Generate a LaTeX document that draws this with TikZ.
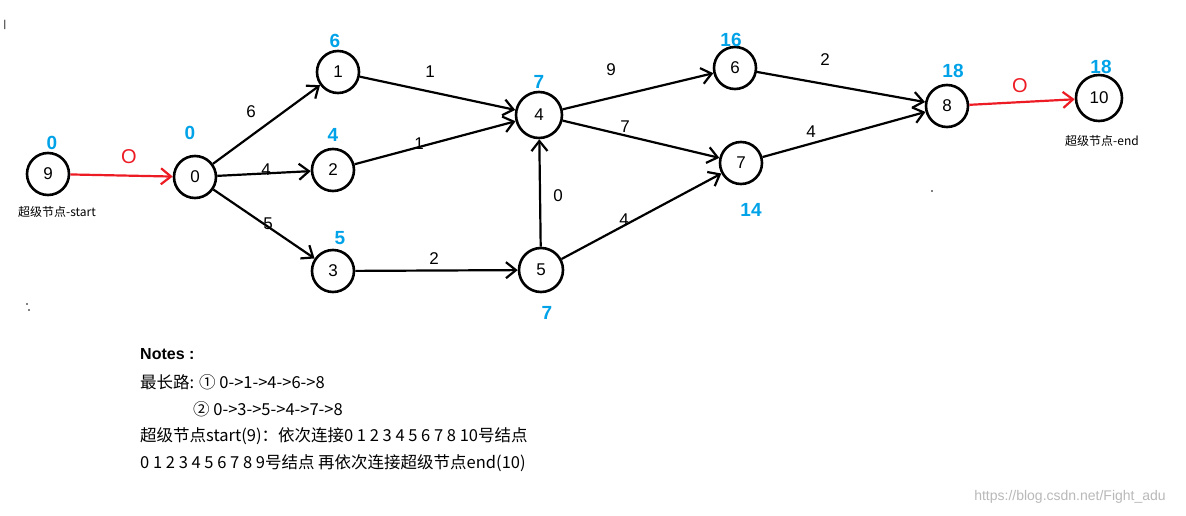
\documentclass[tikz,border=0pt]{standalone}
\usepackage{fontspec}
\setmainfont{Liberation Sans}
\newfontfamily\cjk{Noto Sans CJK SC}
\usetikzlibrary{arrows.meta}
\begin{document}
\begin{tikzpicture}[x=1pt,y=-1pt,
  vtx/.style={circle,draw,line width=2.6pt,minimum size=42pt,inner sep=0pt,font=\fontsize{17}{17}\selectfont},
  edge/.style={line width=2.2pt,-{Straight Barb[length=10pt,width=16pt]}},
  redge/.style={edge,draw={rgb,255:red,237;green,28;blue,36}},
  wl/.style={font=\fontsize{17}{17}\selectfont},
  bl/.style={font=\bfseries\fontsize{19}{19}\selectfont,text={rgb,255:red,0;green,162;blue,232}},
  note/.style={anchor=west,font=\cjk\fontsize{16.5}{16.5}\selectfont,inner sep=0pt}]
\fill[white] (0,0) rectangle (1186,516);
\useasboundingbox (0,0) rectangle (1186,516);
\node[vtx] (n9) at (48,174) {9};
\node[vtx] (n0) at (195,177) {0};
\node[vtx] (n1) at (338,72) {1};
\node[vtx] (n2) at (333,170) {2};
\node[vtx] (n3) at (333,271) {3};
\node[vtx,minimum size=46pt] (n4) at (539,115) {4};
\node[vtx,minimum size=44pt] (n5) at (541,270) {5};
\node[vtx] (n6) at (735,68) {6};
\node[vtx] (n7) at (741,163) {7};
\node[vtx] (n8) at (947,106) {8};
\node[vtx,minimum size=46pt] (n10) at (1099,98) {10};
\draw[redge] (n9) -- (n0);
\draw[redge] (n8) -- (n10);
\draw[edge] (n0) -- (n1);
\draw[edge] (n0) -- (n2);
\draw[edge] (n0) -- (n3);
\draw[edge] (n1) -- (n4);
\draw[edge] (n2) -- (n4);
\draw[edge] (n3) -- (n5);
\draw[edge] (n5) -- (n4);
\draw[edge] (n5) -- (n7);
\draw[edge] (n4) -- (n6);
\draw[edge] (n4) -- (n7);
\draw[edge] (n6) -- (n8);
\draw[edge] (n7) -- (n8);
\node[bl] (b9) at (52,143) {0};
\node[bl] (b0) at (190,133) {0};
\node[bl] (b1) at (335,41) {6};
\node[bl] (b2) at (333,135) {4};
\node[bl] (b3) at (340,238) {5};
\node[bl] (b4) at (539,82) {7};
\node[bl] (b5) at (547,313) {7};
\node[bl] (b6) at (731,40) {16};
\node[bl] (b7) at (751,210) {14};
\node[bl] (b8) at (953,71) {18};
\node[bl] (b10) at (1101,67) {18};
\node[wl] (w01) at (251,112) {6};
\node[wl] (w02) at (266,170) {4};
\node[wl] (w03) at (268,224) {5};
\node[wl] (w14) at (430,72) {1};
\node[wl] (w24) at (419,144) {1};
\node[wl] (w35) at (434,259) {2};
\node[wl] (w54) at (558,196) {0};
\node[wl] (w46) at (611,70) {9};
\node[wl] (w47) at (625,127) {7};
\node[wl] (w57) at (624,220) {4};
\node[wl] (w68) at (825,60) {2};
\node[wl] (w78) at (811,132) {4};
\node[wl,text={rgb,255:red,237;green,28;blue,36},font=\fontsize{20}{20}\selectfont] (r1) at (129,157) {O};
\node[wl,text={rgb,255:red,237;green,28;blue,36},font=\fontsize{20}{20}\selectfont] (r2) at (1020,86) {O};
\node[font=\cjk\fontsize{12}{12}\selectfont] (s9) at (57,212) {超级节点-start};
\node[font=\cjk\fontsize{12}{12}\selectfont] (s10) at (1102,141) {超级节点-end};
\node[note,font=\bfseries\fontsize{16}{16}\selectfont] (t0) at (140,354) {Notes :};
\node[note] (t1) at (140,382) {最长路: ① 0->1->4->6->8};
\node[note] (t2) at (193,409) {② 0->3->5->4->7->8};
\node[note] (t3) at (140,436) {超级节点start(9)：依次连接0 1 2 3 4 5 6 7 8 10号结点};
\node[note] (t4) at (140,463) {0 1 2 3 4 5 6 7 8 9号结点 再依次连接超级节点end(10)};
\node[font=\fontsize{14}{14}\selectfont,text=gray!55] (wm) at (1070,497) {https://blog.csdn.net/Fight\_adu};
\node[font=\fontsize{10}{10}\selectfont] (m1) at (5,25) {|};
\fill (932,191) circle (0.9);
\fill (27,304) circle (0.9);
\fill (29,310) circle (0.9);
\end{tikzpicture}
\end{document}
